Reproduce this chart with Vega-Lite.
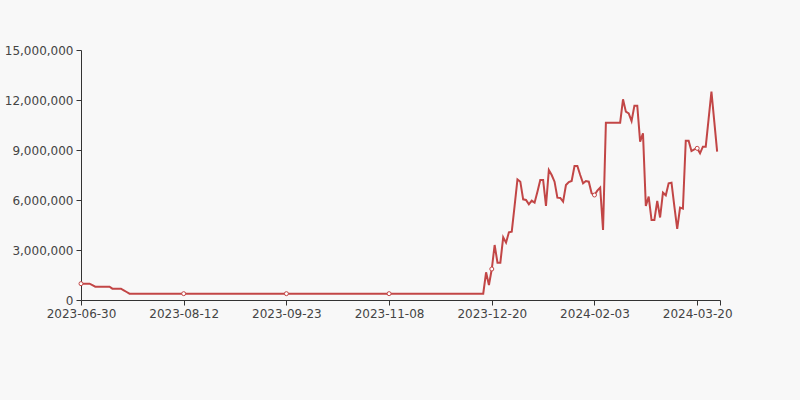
{
  "$schema": "https://vega.github.io/schema/vega-lite/v6.json",
  "width": 639,
  "height": 250,
  "autosize": {"type": "none"},
  "padding": {"left": 81, "top": 50, "right": 80, "bottom": 100},
  "background": "#f8f8f8",
  "config": {"view": {"stroke": null}, "font": "DejaVu Sans"},
  "data": {"values": [
    {"date":"2023-06-30","value":980000},{"date":"2023-07-01","value":980000},{"date":"2023-07-03","value":980000},{"date":"2023-07-05","value":980000},
    {"date":"2023-07-06","value":890000},{"date":"2023-07-07","value":800000},{"date":"2023-07-08","value":800000},{"date":"2023-07-10","value":800000},
    {"date":"2023-07-11","value":800000},{"date":"2023-07-12","value":800000},{"date":"2023-07-13","value":800000},{"date":"2023-07-14","value":680000},
    {"date":"2023-07-15","value":680000},{"date":"2023-07-17","value":680000},{"date":"2023-07-18","value":680000},{"date":"2023-07-19","value":580000},
    {"date":"2023-07-20","value":480000},{"date":"2023-07-21","value":380000},{"date":"2023-07-22","value":380000},{"date":"2023-07-24","value":380000},
    {"date":"2023-07-25","value":380000},{"date":"2023-07-26","value":380000},{"date":"2023-07-27","value":380000},{"date":"2023-07-28","value":380000},
    {"date":"2023-07-29","value":380000},{"date":"2023-07-31","value":380000},{"date":"2023-08-01","value":380000},{"date":"2023-08-02","value":380000},
    {"date":"2023-08-03","value":380000},{"date":"2023-08-04","value":380000},{"date":"2023-08-05","value":380000},{"date":"2023-08-07","value":380000},
    {"date":"2023-08-08","value":380000},{"date":"2023-08-09","value":380000},{"date":"2023-08-10","value":380000},{"date":"2023-08-11","value":380000},
    {"date":"2023-08-12","value":380000},
    {"date":"2023-08-14","value":380000},{"date":"2023-08-15","value":380000},{"date":"2023-08-16","value":380000},{"date":"2023-08-17","value":380000},
    {"date":"2023-08-18","value":380000},{"date":"2023-08-19","value":380000},{"date":"2023-08-21","value":380000},{"date":"2023-08-22","value":380000},
    {"date":"2023-08-23","value":380000},{"date":"2023-08-24","value":380000},{"date":"2023-08-25","value":380000},{"date":"2023-08-26","value":380000},
    {"date":"2023-08-28","value":380000},{"date":"2023-08-29","value":380000},{"date":"2023-08-30","value":380000},{"date":"2023-08-31","value":380000},
    {"date":"2023-09-01","value":380000},{"date":"2023-09-02","value":380000},{"date":"2023-09-04","value":380000},{"date":"2023-09-05","value":380000},
    {"date":"2023-09-06","value":380000},{"date":"2023-09-07","value":380000},{"date":"2023-09-08","value":380000},{"date":"2023-09-09","value":380000},
    {"date":"2023-09-11","value":380000},{"date":"2023-09-12","value":380000},{"date":"2023-09-13","value":380000},{"date":"2023-09-14","value":380000},
    {"date":"2023-09-15","value":380000},{"date":"2023-09-16","value":380000},{"date":"2023-09-18","value":380000},{"date":"2023-09-19","value":380000},
    {"date":"2023-09-20","value":380000},{"date":"2023-09-21","value":380000},{"date":"2023-09-22","value":380000},{"date":"2023-09-23","value":380000},
    {"date":"2023-09-25","value":380000},{"date":"2023-09-26","value":380000},{"date":"2023-09-27","value":380000},{"date":"2023-09-28","value":380000},
    {"date":"2023-09-29","value":380000},{"date":"2023-09-30","value":380000},{"date":"2023-10-05","value":380000},{"date":"2023-10-06","value":380000},
    {"date":"2023-10-07","value":380000},{"date":"2023-10-09","value":380000},{"date":"2023-10-10","value":380000},{"date":"2023-10-11","value":380000},
    {"date":"2023-10-12","value":380000},{"date":"2023-10-13","value":380000},{"date":"2023-10-14","value":380000},{"date":"2023-10-16","value":380000},
    {"date":"2023-10-17","value":380000},{"date":"2023-10-18","value":380000},{"date":"2023-10-19","value":380000},{"date":"2023-10-20","value":380000},
    {"date":"2023-10-21","value":380000},{"date":"2023-10-23","value":380000},{"date":"2023-10-24","value":380000},{"date":"2023-10-25","value":380000},
    {"date":"2023-10-26","value":380000},{"date":"2023-10-27","value":380000},{"date":"2023-10-28","value":380000},{"date":"2023-10-30","value":380000},
    {"date":"2023-10-31","value":380000},{"date":"2023-11-01","value":380000},{"date":"2023-11-02","value":380000},{"date":"2023-11-03","value":380000},
    {"date":"2023-11-04","value":380000},{"date":"2023-11-06","value":380000},{"date":"2023-11-07","value":380000},{"date":"2023-11-08","value":380000},
    {"date":"2023-11-09","value":380000},{"date":"2023-11-10","value":380000},{"date":"2023-11-11","value":380000},{"date":"2023-11-13","value":380000},
    {"date":"2023-11-14","value":380000},{"date":"2023-11-15","value":380000},{"date":"2023-11-16","value":380000},{"date":"2023-11-17","value":380000},
    {"date":"2023-11-18","value":380000},{"date":"2023-11-20","value":380000},{"date":"2023-11-21","value":380000},{"date":"2023-11-22","value":380000},
    {"date":"2023-11-23","value":380000},{"date":"2023-11-24","value":380000},{"date":"2023-11-25","value":380000},{"date":"2023-11-27","value":380000},
    {"date":"2023-11-28","value":380000},{"date":"2023-11-29","value":380000},{"date":"2023-11-30","value":380000},{"date":"2023-12-01","value":380000},
    {"date":"2023-12-02","value":380000},{"date":"2023-12-04","value":380000},{"date":"2023-12-05","value":380000},{"date":"2023-12-06","value":380000},
    {"date":"2023-12-07","value":380000},{"date":"2023-12-08","value":380000},{"date":"2023-12-09","value":380000},{"date":"2023-12-11","value":380000},
    {"date":"2023-12-12","value":380000},{"date":"2023-12-13","value":380000},{"date":"2023-12-14","value":380000},{"date":"2023-12-15","value":380000},
    {"date":"2023-12-16","value":380000},{"date":"2023-12-18","value":1660000},{"date":"2023-12-19","value":900000},{"date":"2023-12-20","value":1860000},
    {"date":"2023-12-21","value":3300000},{"date":"2023-12-22","value":2240000},{"date":"2023-12-23","value":2240000},{"date":"2023-12-27","value":3760000},
    {"date":"2023-12-28","value":3440000},{"date":"2023-12-29","value":4060000},{"date":"2023-12-30","value":4100000},{"date":"2024-01-02","value":5650000},
    {"date":"2024-01-03","value":7240000},{"date":"2024-01-04","value":7100000},{"date":"2024-01-05","value":6040000},{"date":"2024-01-06","value":6000000},
    {"date":"2024-01-08","value":5740000},{"date":"2024-01-09","value":5960000},{"date":"2024-01-10","value":5840000},{"date":"2024-01-11","value":6500000},
    {"date":"2024-01-12","value":7200000},{"date":"2024-01-13","value":7200000},{"date":"2024-01-15","value":5640000},{"date":"2024-01-16","value":7800000},
    {"date":"2024-01-17","value":7500000},{"date":"2024-01-18","value":7100000},{"date":"2024-01-19","value":6140000},{"date":"2024-01-20","value":6120000},
    {"date":"2024-01-22","value":5900000},{"date":"2024-01-23","value":6900000},{"date":"2024-01-24","value":7080000},{"date":"2024-01-25","value":7140000},
    {"date":"2024-01-26","value":8040000},{"date":"2024-01-27","value":8040000},{"date":"2024-01-29","value":7500000},{"date":"2024-01-30","value":7000000},
    {"date":"2024-01-31","value":7140000},{"date":"2024-02-01","value":7100000},{"date":"2024-02-02","value":6400000},{"date":"2024-02-03","value":6300000},
    {"date":"2024-02-05","value":6560000},{"date":"2024-02-06","value":6740000},{"date":"2024-02-07","value":4200000},{"date":"2024-02-08","value":10640000},
    {"date":"2024-02-09","value":10640000},{"date":"2024-02-14","value":10640000},{"date":"2024-02-15","value":10640000},{"date":"2024-02-16","value":10640000},
    {"date":"2024-02-17","value":10640000},{"date":"2024-02-19","value":12040000},{"date":"2024-02-20","value":11300000},{"date":"2024-02-21","value":11200000},
    {"date":"2024-02-22","value":10740000},{"date":"2024-02-23","value":11660000},{"date":"2024-02-24","value":11660000},{"date":"2024-02-26","value":9500000},
    {"date":"2024-02-27","value":10000000},{"date":"2024-02-28","value":5640000},{"date":"2024-02-29","value":6200000},{"date":"2024-03-01","value":4800000},
    {"date":"2024-03-02","value":4800000},{"date":"2024-03-04","value":5950000},{"date":"2024-03-05","value":4950000},{"date":"2024-03-06","value":6440000},
    {"date":"2024-03-07","value":6280000},{"date":"2024-03-08","value":7000000},{"date":"2024-03-09","value":7040000},{"date":"2024-03-11","value":5620000},
    {"date":"2024-03-12","value":4270000},{"date":"2024-03-13","value":5540000},{"date":"2024-03-14","value":5480000},{"date":"2024-03-15","value":9560000},
    {"date":"2024-03-16","value":9560000},{"date":"2024-03-18","value":8940000},{"date":"2024-03-19","value":9040000},{"date":"2024-03-20","value":9100000},
    {"date":"2024-03-21","value":8800000},{"date":"2024-03-22","value":9200000},{"date":"2024-03-23","value":9200000},{"date":"2024-03-25","value":10850000},
    {"date":"2024-03-26","value":12500000},{"date":"2024-03-27","value":10700000},{"date":"2024-03-28","value":8900000},{"date":"2024-03-29","value":null}
  ]},
  "encoding": {
    "x": {
      "field": "date", "type": "ordinal",
      "scale": {"type": "point", "padding": 0},
      "axis": {
        "title": null,
        "values": ["2023-06-30","2023-08-12","2023-09-23","2023-11-08","2023-12-20","2024-02-03","2024-03-20","2024-03-29"],
        "labelExpr": "datum.value == '2024-03-29' ? '' : datum.label",
        "labelAngle": 0, "grid": false,
        "domainColor": "#333", "tickColor": "#333", "tickSize": 5,
        "labelColor": "#444", "labelFontSize": 12, "labelPadding": 3,
        "labelFont": "DejaVu Sans"
      }
    },
    "y": {
      "field": "value", "type": "quantitative",
      "scale": {"domain": [0, 15000000]},
      "axis": {
        "title": null, "grid": false,
        "values": [0, 3000000, 6000000, 9000000, 12000000, 15000000],
        "format": ",d",
        "domainColor": "#333", "tickColor": "#333", "tickSize": 5,
        "labelColor": "#444", "labelFontSize": 12, "labelPadding": 3,
        "labelFont": "DejaVu Sans"
      }
    }
  },
  "layer": [
    {"mark": {"type": "line", "color": "#c24646", "strokeWidth": 2, "interpolate": "linear"}},
    {
      "transform": [{"filter": {"field": "date", "oneOf": ["2023-06-30","2023-08-12","2023-09-23","2023-11-08","2023-12-20","2024-02-03","2024-03-20"]}}],
      "mark": {"type": "point", "shape": "circle", "filled": true, "fill": "#ffffff", "stroke": "#c24646", "strokeWidth": 1, "size": 16, "opacity": 1}
    }
  ]
}
